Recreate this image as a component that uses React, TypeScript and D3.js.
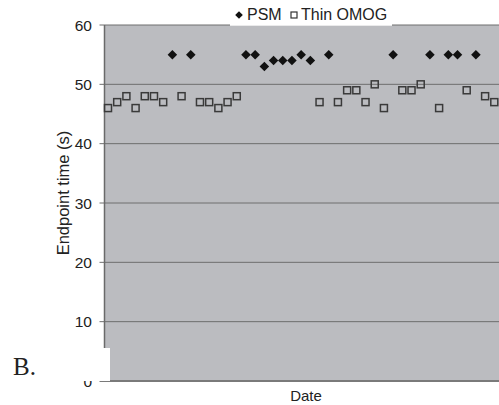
import React from "react";
import * as d3 from "d3";

const dates: number[] = Array.from({ length: 43 }, (_, i) => i + 1);
// null where the series has no reading for that date
const psm: (number | null)[] = [
  null, null, null, null, null, null, null, 55, null, 55,
  null, null, null, null, null, 55, 55, 53, 54, 54,
  54, 55, 54, null, 55, null, null, null, null, null,
  null, 55, null, null, null, 55, null, 55, 55, null,
  55, null, null,
];
const omog: (number | null)[] = [
  46, 47, 48, 46, 48, 48, 47, null, 48, null,
  47, 47, 46, 47, 48, null, null, null, null, null,
  null, null, null, 47, null, 47, 49, 49, 47, 50,
  46, null, 49, 49, 50, null, 46, null, null, 49,
  null, 48, 47,
];
const yTicks: number[] = [0, 10, 20, 30, 40, 50, 60];

const W = 499;
const H = 405;
const FONT = "'Liberation Sans', Arial, Helvetica, sans-serif";

export default function App() {
  const left = 104.5;
  const right = 499;
  const top = 25;
  const bottom = 381;
  const x = d3
    .scalePoint<number>()
    .domain(dates)
    .range([108, 494.3]);
  const y = d3.scaleLinear().domain([0, 60]).range([bottom, top]);

  const diamond = d3.symbol().type(d3.symbolDiamond2).size(58)();

  return (
    <svg
      width={W}
      height={H}
      style={{ position: "absolute", left: 0, top: 0, background: "#fff" }}
    >
      {/* plot background */}
      <rect x={left} y={top} width={right - left} height={bottom - top} fill="#bbbcc0" />
      {/* gridlines */}
      {yTicks.map((t) => (
        <line
          key={"g" + t}
          x1={left - 5}
          x2={right}
          y1={y(t)}
          y2={y(t)}
          stroke={t === 0 ? "#7a7a7a" : "#6e6e6e"}
          strokeWidth={t === 0 ? 2 : 1}
        />
      ))}
      {/* left axis */}
      <line x1={left} x2={left} y1={top} y2={bottom} stroke="#6a6a6a" strokeWidth={1.5} />
      {/* tick labels */}
      {yTicks.map((t) => (
        <text
          key={"t" + t}
          x={92}
          y={y(t)}
          dy="0.36em"
          textAnchor="end"
          fontFamily={FONT}
          fontSize={15.5}
          fill="#222"
        >
          {t}
        </text>
      ))}
      {/* markers */}
      {omog.map((v, i) =>
        v == null ? null : (
          <rect
            key={"o" + i}
            x={(x(dates[i]) as number) - 3.5}
            y={y(v) - 3.5}
            width={7}
            height={7}
            fill="none"
            stroke="#3a3a3a"
            strokeWidth={1.5}
          />
        )
      )}
      {psm.map((v, i) =>
        v == null ? null : (
          <path
            key={"p" + i}
            d={diamond as string}
            transform={`translate(${x(dates[i])},${y(v)})`}
            fill="#111"
          />
        )
      )}
      {/* white box covering bottom-left corner */}
      <rect x={0} y={348} width={110} height={33} fill="#fff" />
      <text x={13} y={375} fontFamily="'Liberation Serif', 'Times New Roman', serif" fontSize={25} fill="#222">
        B.
      </text>
      {/* legend */}
      <rect x={230} y={0} width={162} height={25.8} fill="#fff" />
      <path d={diamond as string} transform="translate(239,15) scale(0.8)" fill="#111" />
      <text x={247} y={19.5} fontFamily={FONT} fontSize={16} fill="#222">
        PSM
      </text>
      <rect x={291} y={12} width={6} height={6} fill="none" stroke="#333" strokeWidth={1.2} />
      <text x={301} y={19.5} fontFamily={FONT} fontSize={16} fill="#222">
        Thin OMOG
      </text>
      {/* axis titles */}
      <text
        transform="translate(69,193) rotate(-90)"
        textAnchor="middle"
        fontFamily={FONT}
        fontSize={16.5}
        fill="#222"
      >
        Endpoint time (s)
      </text>
      <text x={306} y={401} textAnchor="middle" fontFamily={FONT} fontSize={15} fill="#222">
        Date
      </text>
    </svg>
  );
}
